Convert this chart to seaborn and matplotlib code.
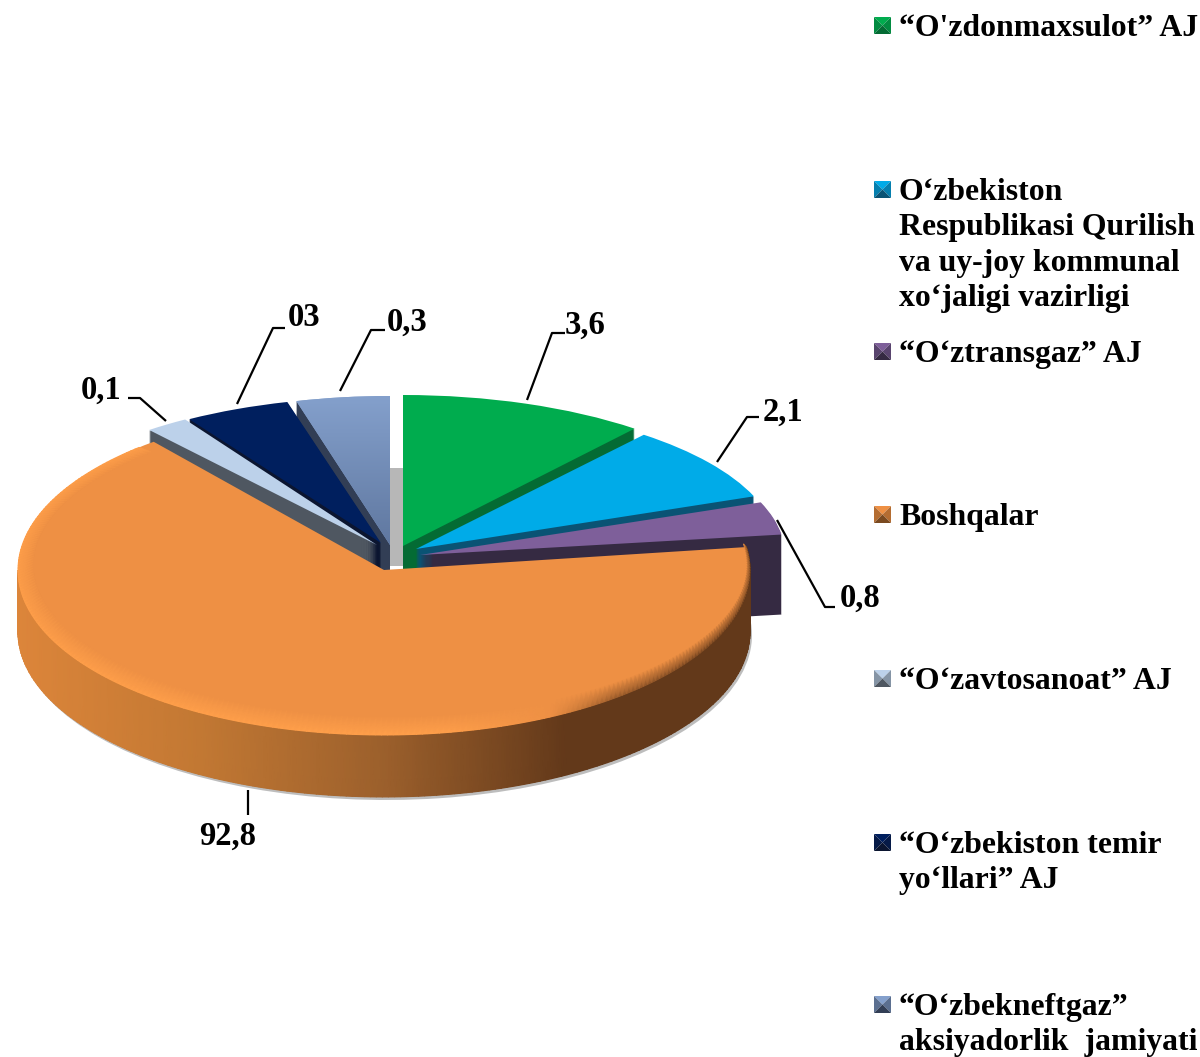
import numpy as np
import matplotlib
matplotlib.use('Agg')
import matplotlib.pyplot as plt
from matplotlib.transforms import Affine2D
import seaborn as sns

# slice sizes as drawn in the picture (the printed labels are not proportional to them)
slice_shares = [39, 30, 13, 239, 7, 17, 15]
value_labels = ['3,6', '2,1', '0,8', '92,8', '0,1', '03', '0,3']
legend_labels = [
    "\u201cO'zdonmaxsulot\u201d AJ",
    "O\u2018zbekiston\nRespublikasi Qurilish\nva uy-joy kommunal\nxo\u2018jaligi vazirligi",
    "\u201cO\u2018ztransgaz\u201d AJ",
    "Boshqalar",
    "\u201cO\u2018zavtosanoat\u201d AJ",
    "\u201cO\u2018zbekiston temir\nyo\u2018llari\u201d AJ",
    "\u201cO\u2018zbekneftgaz\u201d\naksiyadorlik  jamiyati",
]
top_colors = ['#00AC4E', '#00ABE8', '#7E5F9A', '#EE9044', '#BCD1EA', '#001F5E', '#84A0CC']
side_colors = ['#046B34', '#0A5374', '#352A42', '#7A4A20', '#4F5761', '#0B1530', '#323E55']

# layout, in image pixels: centre x, centre y, half width, half height of each slice
slice_geom = [
    (403, 546, 368, 151),
    (416, 549, 362, 147),
    (420, 555, 365, 147),
    (384, 570, 366, 165),
    (377, 545, 362, 148),
    (381, 543, 362, 146),
    (390, 545, 362, 149),
]
draw_order = [3, 4, 5, 6, 2, 1, 0]  # stacking rank of each slice
DEPTH = 62
PURPLE_DEPTH = 80
PURPLE = 2
ORANGE = 3

# leader line points and label anchor for each value
leaders = [
    ([527, 552, 565], [400, 333, 333], 565, 325, 'left'),
    ([717, 747, 759], [462, 417, 417], 763, 412, 'left'),
    ([777, 825, 835], [520, 607, 607], 840, 598, 'left'),
    ([248, 248], [790, 815], 228, 836, 'center'),
    ([166, 140, 128], [421, 398, 398], 122, 390, 'right'),
    ([237, 273, 285], [404, 328, 328], 288, 318, 'left'),
    ([340, 371, 385], [391, 330, 330], 387, 322, 'left'),
]
legend_y = [26, 190, 352, 515, 679, 843, 1005]

sns.set_theme(style='white')
plt.rcParams['font.family'] = ['Liberation Serif', 'DejaVu Serif']
plt.rcParams['font.weight'] = 'bold'

fig = plt.figure(figsize=(12, 10.57), dpi=100)
ax = fig.add_axes([0, 0, 1, 1])


def place(wedge, i, dx=0, dy=0):
    cx, cy, a, b = slice_geom[i]
    wedge.set_transform(Affine2D().scale(a, -b).translate(cx + dx, cy + dy) + ax.transData)


def draw_layer(colors, dx=0, dy=0, z_add=0):
    wedges, _ = ax.pie(slice_shares, colors=colors, startangle=90, counterclock=False,
                       frame=True, wedgeprops={'linewidth': 0})
    for i, w in enumerate(wedges):
        place(w, i, dx, dy)
        w.set_zorder(2 * draw_order[i] + z_add)
    return wedges


# grey wall seen through the gap between the two halves
ax.fill_between([390, 404], 468, 566, color='#B7B7B7', linewidth=0, zorder=-1)

# soft edge under the orange slice
shadow = draw_layer(['#BDBDBD'] * len(slice_shares), dx=2, dy=DEPTH + 3, z_add=-0.5)
for i, w in enumerate(shadow):
    if i != ORANGE:
        w.set_visible(False)

# extruded sides, the purple one reaches lower
for dy in range(PURPLE_DEPTH, 0, -1):
    layer = draw_layer(side_colors, dy=dy)
    if dy > DEPTH:
        for i, w in enumerate(layer):
            if i != PURPLE:
                w.set_visible(False)

# top faces
tops = draw_layer(top_colors, z_add=1)

# vertical fade on the steel blue slice
steel_cmap = sns.blend_palette(['#84A0CC', '#5F779F'], as_cmap=True)
img = ax.imshow(np.linspace(0, 1, 100)[:, None], cmap=steel_cmap, aspect='auto',
                extent=(280, 400, 548, 395), zorder=2 * draw_order[6] + 1.5)
img.set_clip_path(tops[6])

# orange arc taken from the slice sizes
end_deg = 90 - sum(slice_shares[:ORANGE])
start_deg = end_deg - slice_shares[ORANGE]
cx, cy, a, b = slice_geom[ORANGE]
z_orange = 2 * draw_order[ORANGE]

# outer wall with a left to right fade
theta = np.radians(np.linspace(-180, end_deg, 200))
x_out = cx + a * np.cos(theta)
y_out = cy - b * np.sin(theta)
wall_cmap = sns.blend_palette(['#DC853A', '#C27833', '#9C602C', '#63391A', '#63391A'], as_cmap=True)
wall_c = np.clip((x_out - x_out.min()) / (x_out.max() - x_out.min()), 0, 1)
ax.pcolormesh(np.vstack([x_out, x_out]), np.vstack([y_out, y_out + DEPTH]),
              np.vstack([wall_c, wall_c]), cmap=wall_cmap, vmin=0, vmax=1,
              shading='gouraud', zorder=z_orange + 0.5)

# bevel round the front of the top face
theta = np.radians(np.linspace(start_deg + 3, end_deg, 260))
x_out = cx + a * np.cos(theta)
y_out = cy - b * np.sin(theta)
x_in = cx + 6 + (a - 9) * np.cos(theta)
y_in = cy - 5 - (b - 13) * np.sin(theta)
bevel_cmap = sns.blend_palette(['#63391A', '#EE9044', '#FF9F4A'], as_cmap=True)
rim = np.interp(x_out, [cx - a, cx + 60, cx + 230, cx + a], [1, 1, 0.2, 0])
inner = np.full_like(rim, 0.5)
ax.pcolormesh(np.vstack([x_out, x_in]), np.vstack([y_out, y_in]), np.vstack([rim, inner]),
              cmap=bevel_cmap, vmin=0, vmax=1, shading='gouraud', zorder=z_orange + 1.5)

# value labels
for text, (xs, ys, tx, ty, ha) in zip(value_labels, leaders):
    ax.plot(xs, ys, color='black', lw=1.6, solid_capstyle='butt', zorder=30)
    ax.text(tx, ty, text, fontsize=23.5, ha=ha, va='center', color='black', zorder=31)

# legend, small pyramid squares and text
for text, y, col, side in zip(legend_labels, legend_y, top_colors, side_colors):
    x0, x1 = 874, 891
    y0, y1 = y - 9, y + 8
    xm, ym = (x0 + x1) / 2, (y0 + y1) / 2
    mid = sns.blend_palette([col, side], 3)[1]
    ax.fill([x0, x1, xm], [y0, y0, ym], color=col, lw=0, zorder=30)
    ax.fill([x0, x0, xm], [y0, y1, ym], color=mid, lw=0, zorder=30)
    ax.fill([x1, x1, xm], [y0, y1, ym], color=mid, lw=0, zorder=30)
    ax.fill([x0, x1, xm], [y1, y1, ym], color=side, lw=0, zorder=30)
    ax.text(899, y - 12, text, fontsize=22.9, ha='left', va='top', color='black',
            linespacing=1.29, zorder=31)

ax.set_aspect('auto')
ax.set_xlim(0, 1200)
ax.set_ylim(1057, 0)
ax.axis('off')
fig.savefig('out.png', dpi=100)
plt.close(fig)
